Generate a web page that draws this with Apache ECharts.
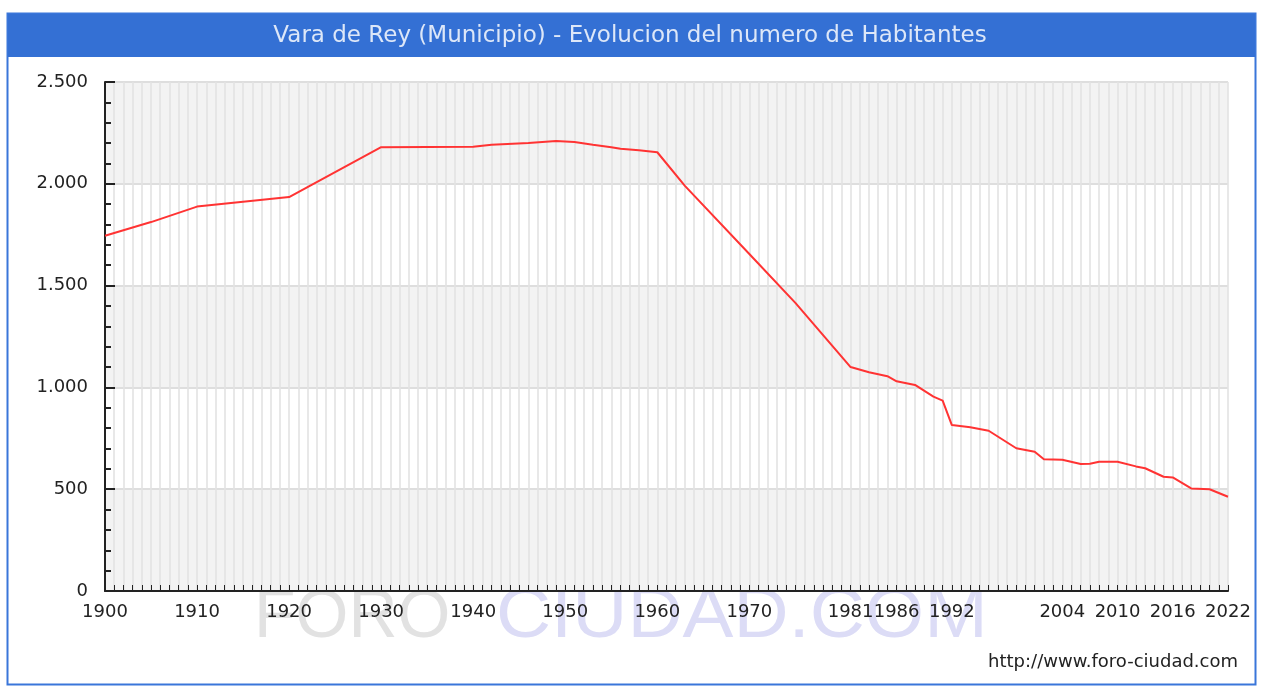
<!DOCTYPE html>
<html><head><meta charset="utf-8">
<script src="https://cdn.jsdelivr.net/npm/echarts/dist/echarts.min.js"></script>
<style>html,body{margin:0;padding:0;background:#fff}#c{width:1263px;height:687px}</style>
</head><body><div id="c"></div>
<script>
const titleText = 'Vara de Rey (Municipio) - Evolucion del numero de Habitantes';
const sourceText = 'http://www.foro-ciudad.com';
const years = [1900,1905,1910,1915,1920,1930,1940,1942,1946,1949,1951,1953,1955,1956,1958,1960,1963,1970,1975,1981,1983,1985,1986,1988,1990,1991,1992,1994,1996,1999,2001,2002,2004,2006,2007,2008,2010,2012,2013,2015,2016,2018,2020,2022];
const population = [1745,1812,1888,1912,1935,2180,2182,2192,2200,2210,2205,2192,2180,2172,2165,2155,1990,1655,1415,1100,1074,1055,1030,1012,955,935,815,804,787,701,684,647,645,624,625,635,635,612,603,561,558,504,500,463];
const xLabelYears = [1900,1910,1920,1930,1940,1950,1960,1970,1981,1986,1992,2004,2010,2016,2022];
const yMin = 0, yMax = 2500, yStep = 500;

function fmtThousands(v){
  if (v >= 1000) { return Math.floor(v/1000) + '.' + String(v % 1000).padStart(3,'0'); }
  return String(v);
}

const chart = echarts.init(document.getElementById('c'), null, {renderer:'canvas'});
const font = 'DejaVu Sans';
chart.setOption({
  animation: false,
  backgroundColor: '#ffffff',
  grid: {left: 105, top: 82, width: 1123, height: 509, containLabel: false},
  xAxis: {
    type: 'value', min: 1900, max: 2022, interval: 1,
    axisLine: {show: true, onZero: false, lineStyle: {color: '#222', width: 2}},
    axisTick: {show: true, inside: true, length: 6, lineStyle: {color: '#222', width: 1}},
    axisLabel: {
      show: true, margin: 12, color: '#222', fontFamily: font, fontSize: 18,
      showMinLabel: true, showMaxLabel: true,
      formatter: v => xLabelYears.includes(v) ? String(v) : ''
    },
    splitLine: {show: true, lineStyle: {color: '#e3e3e3', width: 1.6}}
  },
  yAxis: {
    type: 'value', min: yMin, max: yMax, interval: yStep,
    axisLine: {show: true, lineStyle: {color: '#222', width: 2}},
    axisTick: {show: true, inside: true, length: 10, lineStyle: {color: '#222', width: 2}},
    minorTick: {show: true, splitNumber: 5, length: 6, lineStyle: {color: '#222', width: 2}},
    axisLabel: {margin: 17, color: '#222', fontFamily: font, fontSize: 18, formatter: v => fmtThousands(v)},
    splitLine: {show: true, lineStyle: {color: '#dedede', width: 2}},
    splitArea: {show: true, areaStyle: {color: ['#f3f3f3', '#ffffff']}}
  },
  series: [{
    type: 'line', data: years.map((y, i) => [y, population[i]]),
    symbol: 'none', lineStyle: {color: '#ff3333', width: 2}, z: 5
  }],
  graphic: [
    {type: 'rect', z: -20, shape: {x: 7.5, y: 13.5, width: 1248, height: 671}, style: {fill: '#ffffff', stroke: '#3a76da', lineWidth: 2}},
    {type: 'rect', z: -15, shape: {x: 8, y: 14, width: 1247, height: 43}, style: {fill: '#3470d4'}},
    {type: 'text', z: 10, x: 630, y: 36, style: {text: titleText, fill: '#dde7f8', font: '23px "DejaVu Sans"', textAlign: 'center', textVerticalAlign: 'middle'}},
    {type: 'text', z: -10, x: 254, y: 618, style: {text: 'FORO', fill: '#e2e2e2', font: '68px "Liberation Sans"', textAlign: 'left', textVerticalAlign: 'middle'}},
    {type: 'text', z: -10, x: 496, y: 618, scaleX: 1.09, style: {text: 'CIUDAD.COM', fill: '#dcdcf6', font: '70px "Liberation Sans"', textAlign: 'left', textVerticalAlign: 'middle'}},
    {type: 'text', z: 10, x: 1238, y: 662, style: {text: sourceText, fill: '#222', font: '18px "DejaVu Sans"', textAlign: 'right', textVerticalAlign: 'middle'}}
  ]
});
</script>
</body></html>
